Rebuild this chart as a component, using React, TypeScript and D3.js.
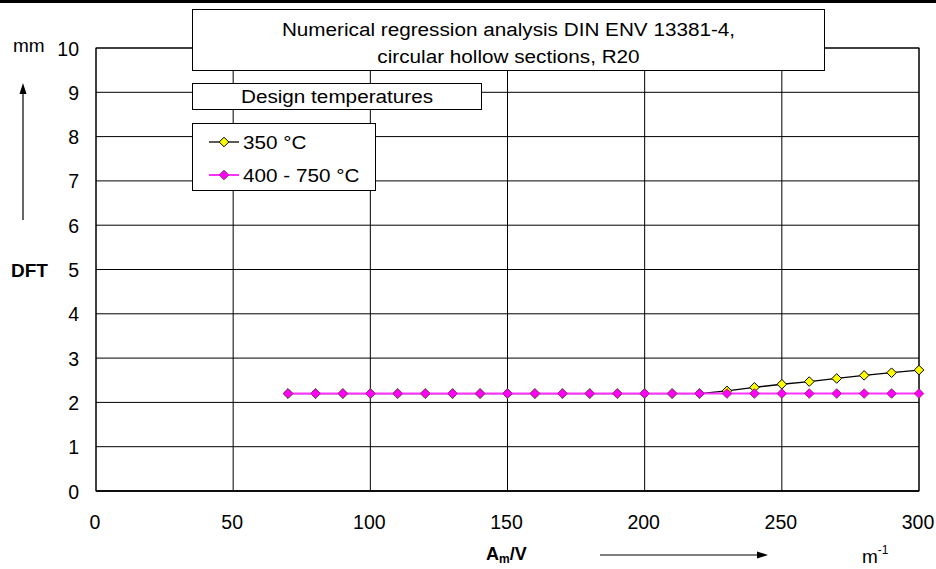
import React from "react";
import * as d3 from "d3";

const xValues = [70, 80, 90, 100, 110, 120, 130, 140, 150, 160, 170, 180, 190, 200, 210, 220, 230, 240, 250, 260, 270, 280, 290, 300];
const series350 = [2.2, 2.2, 2.2, 2.2, 2.2, 2.2, 2.2, 2.2, 2.2, 2.2, 2.2, 2.2, 2.2, 2.2, 2.2, 2.2, 2.26, 2.34, 2.41, 2.47, 2.54, 2.61, 2.67, 2.73];
const series400 = [2.2, 2.2, 2.2, 2.2, 2.2, 2.2, 2.2, 2.2, 2.2, 2.2, 2.2, 2.2, 2.2, 2.2, 2.2, 2.2, 2.2, 2.2, 2.2, 2.2, 2.2, 2.2, 2.2, 2.2];
const xTicks = [0, 50, 100, 150, 200, 250, 300];
const yTicks = [0, 1, 2, 3, 4, 5, 6, 7, 8, 9, 10];
const titleLines = ["Numerical regression analysis DIN ENV 13381-4,", "circular hollow sections, R20"];
const legendTitle = "Design temperatures";
const seriesNames = ["350 °C", "400 - 750 °C"];

const W = 936;
const H = 569;
const FONT = "'Liberation Sans', Arial, sans-serif";
const FS = 19;

function T({ x, y, children, anchor = "start", weight = "normal", size = FS, sx = 1.09 }: any) {
  return (
    <text
      transform={`translate(${x},${y}) scale(${sx},1)`}
      textAnchor={anchor}
      fontFamily={FONT}
      fontSize={size}
      fontWeight={weight}
      fill="#000"
    >
      {children}
    </text>
  );
}

function Diamond({ cx, cy, fill, stroke, r = 4.8 }: any) {
  const p = `M${cx},${cy - r}L${cx + r},${cy}L${cx},${cy + r}L${cx - r},${cy}Z`;
  return <path d={p} fill={fill} stroke={stroke} strokeWidth={1} />;
}

export default function App() {
  const x = d3.scaleLinear().domain([0, 300]).range([96, 919]);
  const y = d3.scaleLinear().domain([0, 10]).range([491, 48]);
  const line = d3
    .line<number>()
    .x((_, i) => x(xValues[i]))
    .y((d) => y(d));

  const c1 = { line: "#000", fill: "#ffff00", stroke: "#000" };
  const c2 = { line: "#ff33ff", fill: "#ff00ff", stroke: "#993366" };

  return (
    <svg width={W} height={H} style={{ position: "absolute", left: 0, top: 0, background: "#fff" }}>
      <rect x={0} y={0} width={W} height={H} fill="#fff" />
      <rect x={0} y={0} width={W} height={3} fill="#000" />
      {/* grid */}
      {yTicks.map((t) => (
        <line key={"gy" + t} x1={x(0)} x2={x(300)} y1={y(t)} y2={y(t)} stroke="#000" strokeWidth={1} />
      ))}
      {xTicks.map((t) => (
        <line key={"gx" + t} x1={x(t)} x2={x(t)} y1={y(0)} y2={y(10)} stroke="#000" strokeWidth={1} />
      ))}
      <rect x={x(0)} y={y(10)} width={x(300) - x(0)} height={y(0) - y(10)} fill="none" stroke="#000" strokeWidth={1} />
      <line x1={x(0)} x2={x(300)} y1={y(0)} y2={y(0)} stroke="#000" strokeWidth={1.5} />
      {/* y tick labels */}
      {yTicks.map((t) => (
        <T key={"ly" + t} x={79} y={y(t) + 7.5} anchor="end" size={19.5} sx={1}>
          {t}
        </T>
      ))}
      {/* x tick labels */}
      {xTicks.map((t) => (
        <T key={"lx" + t} x={x(t) - 1} y={529} anchor="middle" size={19.5} sx={1}>
          {t}
        </T>
      ))}
      {/* series */}
      <path d={line(series350) || ""} fill="none" stroke={c1.line} strokeWidth={1.3} />
      {series350.map((v, i) => (
        <Diamond key={"a" + i} cx={x(xValues[i])} cy={y(v)} fill={c1.fill} stroke={c1.stroke} />
      ))}
      <path d={line(series400) || ""} fill="none" stroke={c2.line} strokeWidth={2} />
      {series400.map((v, i) => (
        <Diamond key={"b" + i} cx={x(xValues[i])} cy={y(v)} fill={c2.fill} stroke={c2.stroke} />
      ))}
      {/* title box */}
      <rect x={192.5} y={9.5} width={632} height={61} fill="#fff" stroke="#000" strokeWidth={1} />
      <T x={508.5} y={35.5} anchor="middle">{titleLines[0]}</T>
      <T x={508.5} y={62.5} anchor="middle">{titleLines[1]}</T>
      {/* legend title box */}
      <rect x={192.5} y={83.5} width={289} height={26} fill="#fff" stroke="#000" strokeWidth={1} />
      <T x={337} y={103} anchor="middle">{legendTitle}</T>
      {/* legend */}
      <rect x={192.5} y={123.5} width={183} height={67} fill="#fff" stroke="#000" strokeWidth={1} />
      <line x1={209} x2={239} y1={142} y2={142} stroke={c1.line} strokeWidth={1.3} />
      <Diamond cx={224} cy={142} fill={c1.fill} stroke={c1.stroke} />
      <T x={243} y={149}>{seriesNames[0]}</T>
      <line x1={209} x2={239} y1={175} y2={175} stroke={c2.line} strokeWidth={2} />
      <Diamond cx={224} cy={175} fill={c2.fill} stroke={c2.stroke} />
      <T x={243} y={182}>{seriesNames[1]}</T>
      {/* y axis label */}
      <T x={13} y={52} sx={1}>mm</T>
      <T x={11} y={277} weight="bold" sx={1}>DFT</T>
      <line x1={23} x2={23} y1={220} y2={92} stroke="#000" strokeWidth={1.2} />
      <path d="M23,83 L19.5,94 L26.5,94 Z" fill="#000" />
      {/* x axis label */}
      <text transform="translate(486,560)" fontFamily={FONT} fontSize={18} fontWeight="bold">
        A<tspan fontSize={12} dy={3}>m</tspan>
        <tspan dy={-3}>/V</tspan>
      </text>
      <line x1={600} x2={758} y1={555} y2={555} stroke="#000" strokeWidth={1.2} />
      <path d="M768,555 L757,551.5 L757,558.5 Z" fill="#000" />
      <text transform="translate(862,563)" fontFamily={FONT} fontSize={19}>
        m<tspan fontSize={12} dy={-9}>-1</tspan>
      </text>
    </svg>
  );
}
